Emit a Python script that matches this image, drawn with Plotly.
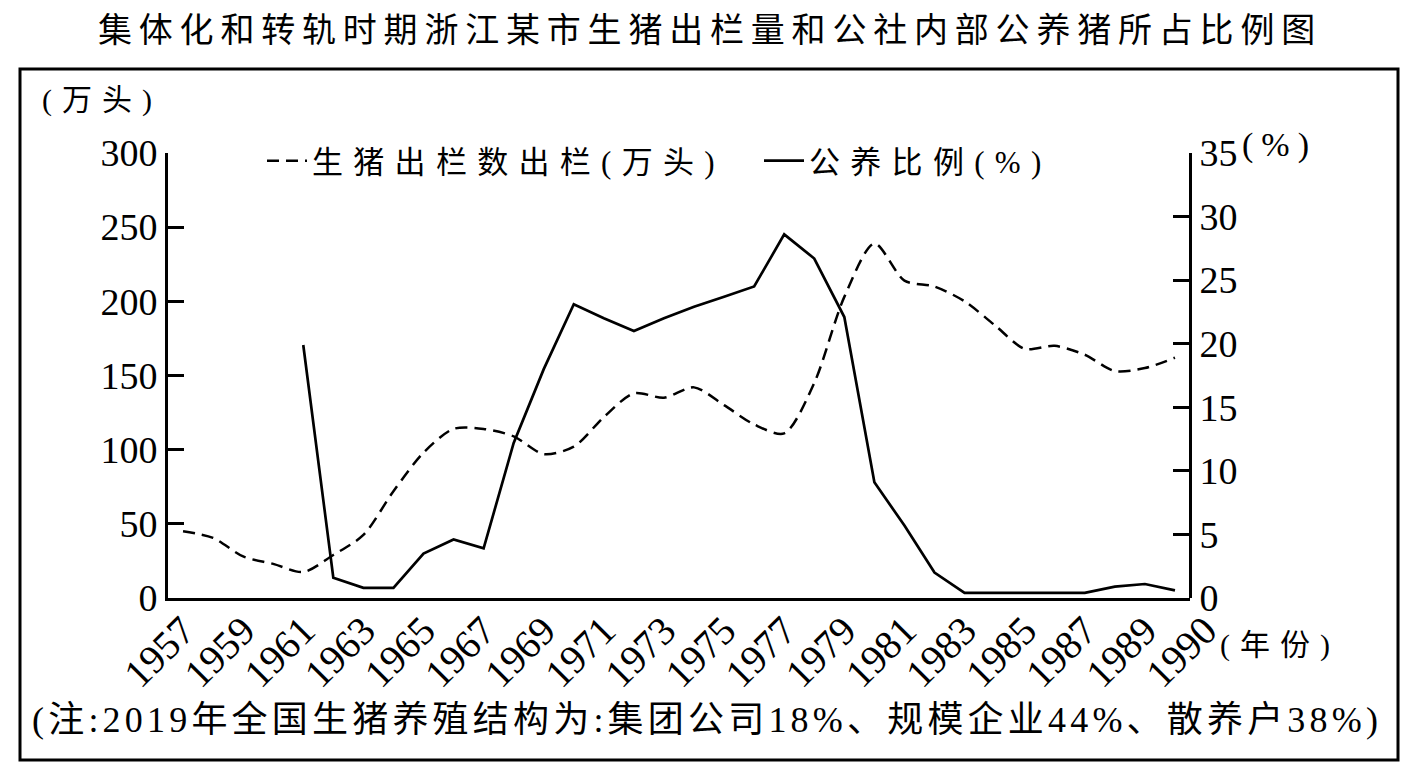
import plotly.graph_objects as go

# ---------------- data ----------------
YEARS = list(range(1957, 1991))
PIG_OUTPUT = [45, 40.5, 28, 23, 17.5, 29, 42.5, 72, 98, 114, 114, 109, 97, 102,
              122, 138, 135, 142, 130, 117, 111, 145, 203, 239, 214, 210, 200,
              184, 168, 170, 164, 153, 155, 162]
COMMUNE_SHARE = [None, None, None, None, 19.9, 1.6, 0.8, 0.8, 3.5, 4.6, 3.9,
                 12.2, 18.0, 23.1, 22.0, 21.0, 22.0, 22.9, 23.7, 24.5, 28.6,
                 26.7, 22.1, 9.1, 5.7, 2.0, 0.4, 0.4, 0.4, 0.4, 0.4, 0.9, 1.1,
                 0.6]
LEFT_TICKS = [0, 50, 100, 150, 200, 250, 300]
RIGHT_TICKS = [0, 5, 10, 15, 20, 25, 30, 35]
XTICK_VALS = [1957, 1959, 1961, 1963, 1965, 1967, 1969, 1971, 1973, 1975,
              1977, 1979, 1981, 1983, 1985, 1987, 1989, 1991]
XTICK_TEXT = ["1957", "1959", "1961", "1963", "1965", "1967", "1969", "1971",
              "1973", "1975", "1977", "1979", "1981", "1983", "1985", "1987",
              "1989", "1990"]

TITLE = "集体化和转轨时期浙江某市生猪出栏量和公社内部公养猪所占比例图"
NAME_PIG = "生猪出栏数出栏(万头)"
NAME_SHARE = "公养比例(%)"
LEFT_UNIT = "(万头)"
RIGHT_UNIT = "(%)"
X_UNIT = "(年份)"
NOTE = "(注:2019年全国生猪养殖结构为:集团公司18%、规模企业44%、散养户38%)"

# ---------------- geometry (page pixels) ----------------
W, H = 1411, 771
OFF = 8                      # default page margin around the figure
FIG_W, FIG_H = W - 2 * OFF, H - 2 * OFF
PLOT_L, PLOT_R, PLOT_T, PLOT_B = 168, 1190, 153, 598
PAPER_R = 1240
D = (PLOT_R - PLOT_L) / (PAPER_R - PLOT_L)
X_RANGE = [1956.5, 1990.5]
X2_RANGE = [X_RANGE[0], X_RANGE[0] + (X_RANGE[1] - X_RANGE[0]) / D]


def px(xpix):
    return (xpix - PLOT_L) / (PAPER_R - PLOT_L)


def py(ypix):
    return (PLOT_B - ypix) / (PLOT_B - PLOT_T)


def spaced(t, ls):
    return f'<span style="letter-spacing:{ls}px">{t}</span>'


FONT = "Liberation Serif, Noto Sans CJK SC, serif"
BLACK = "#000000"

fig = go.Figure()
fig.add_trace(go.Scatter(
    x=YEARS, y=PIG_OUTPUT, name=spaced(NAME_PIG, 10.3), mode="lines",
    line=dict(color=BLACK, width=2.5, dash="12px,7px", shape="spline",
              smoothing=0.8),
    legendwidth=442, xaxis="x", yaxis="y"))
fig.add_trace(go.Scatter(
    x=YEARS, y=COMMUNE_SHARE, name=spaced(NAME_SHARE, 10.3), mode="lines",
    line=dict(color=BLACK, width=2.7), connectgaps=False,
    xaxis="x", yaxis="y2"))
# carrier for the year-label axis
fig.add_trace(go.Scatter(x=[], y=[], xaxis="x2", yaxis="y", showlegend=False,
                         hoverinfo="skip"))

fig.update_layout(
    width=FIG_W, height=FIG_H,
    margin=dict(l=PLOT_L - OFF, r=FIG_W - (PAPER_R - OFF), t=PLOT_T - OFF,
                b=FIG_H - (PLOT_B - OFF)),
    paper_bgcolor="white", plot_bgcolor="rgba(0,0,0,0)",
    font=dict(family=FONT, color=BLACK),
    title=dict(text=spaced(TITLE, 6.8), x=(710 - OFF) / FIG_W,
               xanchor="center", y=1 - (30 - OFF) / FIG_H, yanchor="middle",
               xref="container", yref="container",
               font=dict(size=34, family=FONT)),
    xaxis=dict(domain=[0, D], range=X_RANGE, showline=True, linecolor=BLACK,
               linewidth=3, ticks="", showticklabels=False, showgrid=False,
               zeroline=False, anchor="y"),
    xaxis2=dict(domain=[0, 1], range=X2_RANGE, anchor="y", showline=False,
                ticks="", tickmode="array", tickvals=XTICK_VALS,
                ticktext=XTICK_TEXT, tickangle=-45, showgrid=False,
                zeroline=False, tickfont=dict(size=40, family=FONT)),
    yaxis=dict(range=[0, 300], tickmode="array", tickvals=LEFT_TICKS,
               ticks="inside", ticklen=16, tickwidth=2.5, tickcolor=BLACK,
               showline=True, linecolor=BLACK, linewidth=3, showgrid=False,
               zeroline=False, tickfont=dict(size=38, family=FONT),
               anchor="x"),
    yaxis2=dict(range=[0, 35], tickmode="array", tickvals=RIGHT_TICKS,
                overlaying="y", side="right", anchor="free", position=D,
                ticks="inside", ticklen=16, tickwidth=2.5, tickcolor=BLACK,
                showline=True, linecolor=BLACK, linewidth=3, showgrid=False,
                zeroline=False, tickfont=dict(size=38, family=FONT)),
    legend=dict(orientation="h", x=px(262), y=py(161), xanchor="left",
                yanchor="middle", itemwidth=40, bgcolor="rgba(0,0,0,0)",
                font=dict(size=31, family=FONT)),
    showlegend=True,
)

fig.add_shape(type="rect", xref="paper", yref="paper",
              x0=px(20), x1=px(1398), y0=py(760), y1=py(69),
              line=dict(color=BLACK, width=3), fillcolor="rgba(0,0,0,0)")

ann = dict(xref="paper", yref="paper", showarrow=False)
fig.add_annotation(text=spaced(LEFT_UNIT, 10), x=px(40), y=py(100),
                   xanchor="left", yanchor="middle",
                   font=dict(family=FONT, size=30, color=BLACK), **ann)
fig.add_annotation(text=spaced(RIGHT_UNIT, 8), x=px(1240), y=py(145),
                   xanchor="left", yanchor="middle",
                   font=dict(family=FONT, size=34, color=BLACK), **ann)
fig.add_annotation(text=spaced(X_UNIT, 10), x=px(1218), y=py(645),
                   xanchor="left", yanchor="middle",
                   font=dict(family=FONT, size=30, color=BLACK), **ann)
fig.add_annotation(text=spaced(NOTE, 4.2), x=px(707), y=py(720),
                   xanchor="center", yanchor="middle",
                   font=dict(family=FONT, size=36, color=BLACK), **ann)

fig.write_html("out.html")
